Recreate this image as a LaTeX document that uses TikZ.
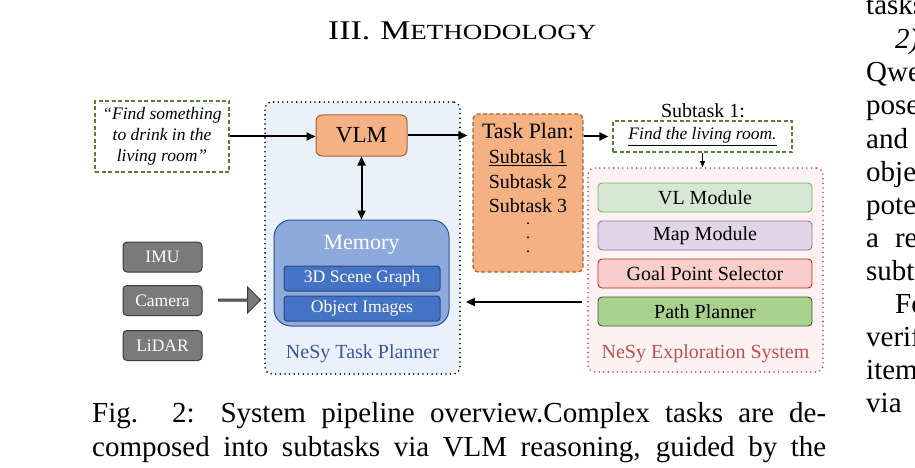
\documentclass[tikz,border=0pt]{standalone}
\usepackage{fontspec}
\setmainfont{Liberation Serif}
\newfontfamily\headfont{Liberation Serif}[FakeStretch=1.25]
\usetikzlibrary{arrows.meta,shapes.arrows,positioning}

\newcommand\fsz[1]{\fontsize{#1}{#1}\selectfont}

\definecolor{planfill}{HTML}{EBF1F8}
\definecolor{plantext}{HTML}{3B5998}
\definecolor{vlmfill}{HTML}{F4B183}
\definecolor{vlmdraw}{HTML}{A8622E}
\definecolor{memfill}{HTML}{8EA9DB}
\definecolor{memdraw}{HTML}{2F528F}
\definecolor{subfill}{HTML}{4472C4}
\definecolor{subdraw}{HTML}{2A4A85}
\definecolor{sensfill}{HTML}{7A7A7A}
\definecolor{sensdraw}{HTML}{3A3A3A}
\definecolor{expfill}{HTML}{FDF2F2}
\definecolor{expdraw}{HTML}{C0504D}
\definecolor{exptext}{HTML}{B85450}
\definecolor{vlfill}{HTML}{D5E8D4}
\definecolor{vldraw}{HTML}{82B366}
\definecolor{mapfill}{HTML}{E1D5E7}
\definecolor{mapdraw}{HTML}{9673A6}
\definecolor{goalfill}{HTML}{F8CECC}
\definecolor{goaldraw}{HTML}{C62828}
\definecolor{pathfill}{HTML}{A9D18E}
\definecolor{pathdraw}{HTML}{3B5E2B}
\definecolor{querydraw}{HTML}{548235}

\tikzset{
  region/.style={rounded corners=7pt, line width=1.8pt, line cap=round, dash pattern=on 0pt off 4.6pt, inner sep=0pt},
  dashbox/.style={line width=1.3pt, dash pattern=on 4pt off 2.5pt, inner sep=0pt},
  module/.style={draw, rounded corners=4pt, line width=0.9pt, minimum width=214pt, minimum height=29pt, inner sep=0pt, font=\fsz{20}},
  sensor/.style={draw=sensdraw, fill=sensfill, text=white, rounded corners=4pt, line width=1pt, minimum width=79pt, minimum height=30pt, inner sep=0pt, font=\fsz{17.5}},
  membox/.style={draw=subdraw, fill=subfill, text=white, rounded corners=3pt, line width=1pt, minimum width=156pt, minimum height=25pt, inner sep=0pt, font=\fsz{17.6}},
  arr/.style={-{Triangle[length=9pt,width=8pt]}, line width=2pt},
  bodytext/.style={anchor=base west, inner sep=0pt, font=\fsz{29}},
}

\begin{document}
\begin{tikzpicture}[x=1pt,y=-1pt]
\useasboundingbox (0,0) rectangle (915,468);

% heading and caption
\node (head) [inner sep=0pt, anchor=base west] at (328,40) {\headfont\fsz{27}III.\hspace{10pt}M{\fsz{21.6}ETHODOLOGY}};
\node (caption) [anchor=base west, inner sep=0pt, align=left, font=\fontsize{29}{34}\selectfont] at (92,456)
  {\makebox[734pt][s]{Fig. 2: System pipeline overview.Complex tasks are de-}\\
   \makebox[734pt][s]{composed into subtasks via VLM reasoning, guided by the}};

% next column, cut by the page edge
\begin{scope}
  \clip (820,0) rectangle (915,468);
  \node[bodytext] at (866,15) {tasks};
  \node[bodytext] at (895,49) {\itshape 2) Task};
  \node[bodytext] at (866,82) {Qwen};
  \node[bodytext] at (866,115) {poses};
  \node[bodytext] at (866,148) {and};
  \node[bodytext] at (866,181) {objects};
  \node[bodytext] at (866,214) {potential};
  \node[bodytext] at (866,247) {a\hspace{16pt}reasoning};
  \node[bodytext] at (866,280) {subtasks};
  \node[bodytext] at (895,313) {For};
  \node[bodytext] at (866,346) {verify};
  \node[bodytext] at (866,379) {items};
  \node[bodytext] at (866,412) {via};
\end{scope}

% regions
\node (planner) [region, draw=black, fill=planfill, minimum width=195pt, minimum height=272pt] at (362.5,238) {};
\node (plannerlabel) [text=plantext, font=\fsz{20}] at (362.5,354) {NeSy Task Planner};
\node (explore) [region, draw=expdraw, fill=expfill, minimum width=235pt, minimum height=204pt] at (705.5,270) {};
\node (explorelabel) [text=exptext, font=\fsz{20}] at (705.5,354) {NeSy Exploration System};

% planner
\node (query) [dashbox, draw=querydraw, fill=white, minimum width=134pt, minimum height=71pt, align=center,
  font=\fontsize{17.5}{21}\selectfont\itshape] at (162,136.5) {“Find something\\to drink in the\\living room”};
\node (vlm) [draw=vlmdraw, fill=vlmfill, rounded corners=6pt, line width=1pt, minimum width=91pt, minimum height=41pt, inner sep=0pt, font=\fsz{23}] at (361.5,135.5) {VLM};
\node (memory) [draw=memdraw, fill=memfill, rounded corners=17pt, line width=1pt, minimum width=175pt, minimum height=106pt] at (361.5,273) {};
\node (memlabel) [text=white, font=\fsz{22}] at (361.5,245) {Memory};
\node (scene) [membox] at (362,278.5) {3D Scene Graph};
\node (images) [membox] at (362,308.5) {Object Images};

% task plan
\node (plan) [dashbox, draw=vlmdraw, fill=vlmfill, rounded corners=5pt, minimum width=110pt, minimum height=158pt] at (528,193) {};
\node (planhead) [font=\fsz{22}] at (528,131) {Task Plan:};
\node (plan1) [font=\fsz{20}] at (528,158) {\underline{Subtask 1}};
\node (plan2) [font=\fsz{20}] at (528,182) {Subtask 2};
\node (plan3) [font=\fsz{20}] at (528,206) {Subtask 3};
\node (plandots) [font=\fontsize{16}{14}\selectfont, align=center, inner sep=0pt] at (528,238) {.\\.\\.};

% subtask
\node (sublabel) [font=\fsz{20}] at (703,111) {Subtask 1:};
\node (sub) [dashbox, draw=querydraw, fill=white, minimum width=179pt, minimum height=31pt, font=\fsz{17.5}\itshape] at (702.5,136.5) {\underline{Find the living room.}};

% exploration modules
\foreach \y/\n/\t/\c in {197.5/vl/VL Module/vl, 235.5/map/Map Module/map, 273.5/goal/Goal Point Selector/goal, 311.5/path/Path Planner/path}
  \node (\n) [module, draw=\c draw, fill=\c fill] at (705,\y) {\t};

% sensors
\foreach \y/\n/\t in {257/imu/IMU, 300.5/cam/Camera, 345.5/lidar/LiDAR}
  \node (\n) [sensor] at (162.5,\y) {\t};
\node (feed) [single arrow, draw=sensdraw, fill=sensfill, line width=1pt, minimum height=42pt, minimum width=26pt, single arrow head extend=6pt, inner sep=0pt] at (239,300) {};

% connectors
\draw[arr] (query.east) -- (query.east -| vlm.west);
\draw[arr, shorten >=5pt] (vlm.east) -- (vlm.east -| plan.west);
\draw[arr, {Triangle[length=9pt,width=8pt]}-{Triangle[length=9pt,width=8pt]}] (vlm.south) -- (memory.north);
\draw[arr, shorten >=4pt] (plan.east |- sub.west) -- (sub.west);
\draw[-{Triangle[length=6pt,width=5pt]}, line width=1.3pt] (sub.south) -- (sub.south |- explore.north);
\draw[arr, shorten <=5pt, shorten >=5pt] (explore.west |- 0,302) -- (planner.east |- 0,302);
\end{tikzpicture}
\end{document}
